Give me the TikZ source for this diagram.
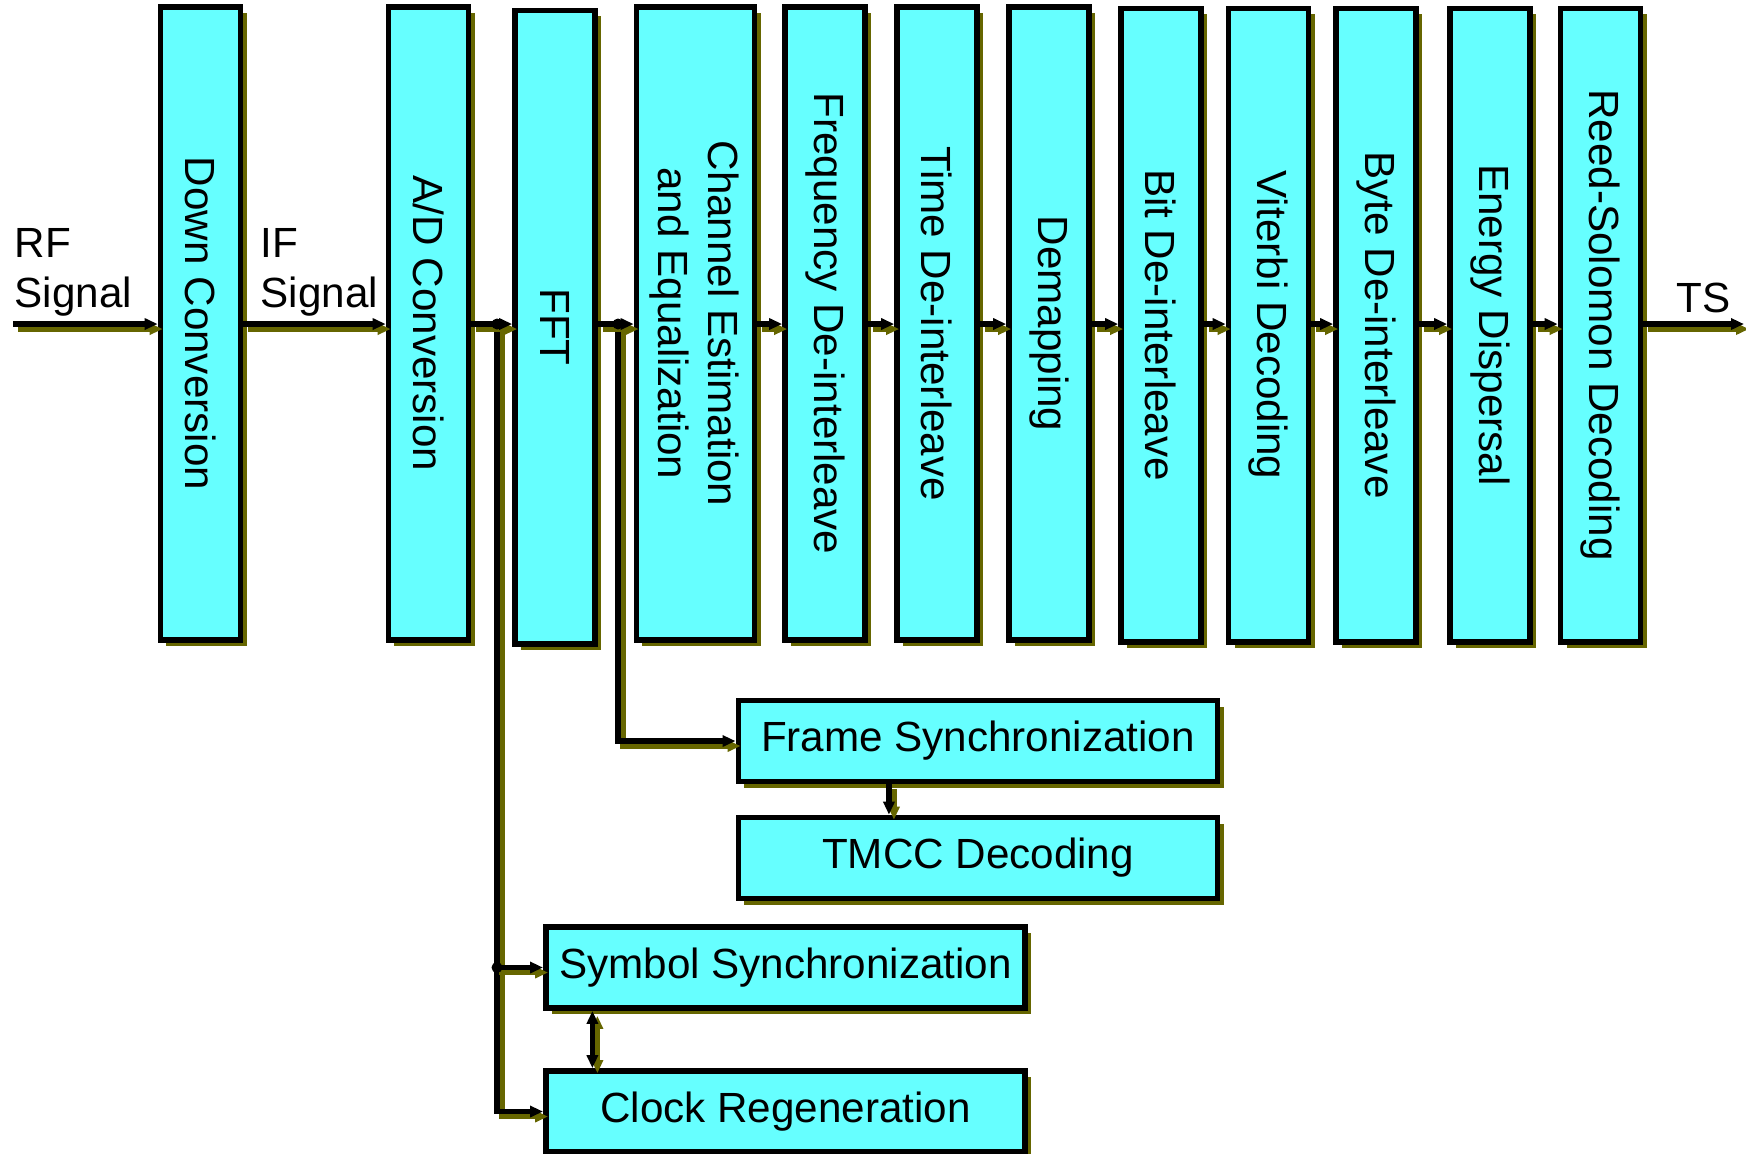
\documentclass[tikz,border=0pt]{standalone}
\usepackage{fontspec}
\setmainfont{Liberation Sans}
\usetikzlibrary{arrows.meta, positioning, shadows}
\definecolor{boxcyan}{RGB}{102,255,255}
\definecolor{shadowolive}{RGB}{102,102,0}
\newcommand{\diagfont}{\fontsize{12pt}{14.2pt}\selectfont}

\tikzset{
  stage/.style={draw, line width=1.6pt, fill=boxcyan, inner sep=0pt,
    minimum width=0.8cm, minimum height=6.33cm,
    drop shadow={opacity=1, fill=shadowolive, shadow xshift=0.06cm, shadow yshift=-0.06cm}},
  sidebox/.style={stage, minimum width=4.79cm, minimum height=0.81cm, font=\diagfont},
  vlabel/.style={rotate=-90, align=center, inner sep=0pt, font=\diagfont},
  sidelabel/.style={align=left, inner sep=0pt, anchor=north west, font=\diagfont},
  flow/.style={line width=1.5pt, -{Triangle[length=0.13cm, width=0.11cm]},
    preaction={draw=shadowolive, line width=1.5pt, transform canvas={xshift=0.05cm, yshift=-0.05cm}}},
  junction/.style={circle, fill, inner sep=0pt, minimum size=0.11cm},
}

\begin{document}
\begin{tikzpicture}[x=0.01cm, y=-0.01cm]
	\useasboundingbox (0,0) rectangle (1746,1153);
	
	% main chain
	\node[stage] (down) at (200.5,323.5) {};
	\node[stage] (ad) at (428.5,323.5) {};
	\node[stage] (fft) at (555,327) {};
	\node[stage, minimum width=1.18cm] (chan) at (695.5,323.5) {};
	\node[stage] (freq) at (825,323.5) {};
	\node[stage] (time) at (937,323.5) {};
	\node[stage] (demap) at (1049,323.5) {};
	\node[stage] (bit) at (1161,325) {};
	\node[stage] (vit) at (1268.5,325) {};
	\node[stage] (byte) at (1376,325) {};
	\node[stage] (energy) at (1490,325) {};
	\node[stage] (reed) at (1600.5,325) {};
	
	\node[vlabel] (downtxt) at (down.center) {Down Conversion};
	\node[vlabel] (adtxt) at (ad.center) {A/D Conversion};
	\node[vlabel] (ffttxt) at (fft.center) {FFT};
	\node[vlabel] (chantxt) at ([xshift=-0.015cm]chan.center) {Channel Estimation\\and Equalization};
	\node[vlabel] (freqtxt) at (freq.center) {Frequency De-interleave};
	\node[vlabel] (timetxt) at (time.center) {Time De-interleave};
	\node[vlabel] (demaptxt) at (demap.center) {Demapping};
	\node[vlabel] (bittxt) at (bit.center) {Bit De-interleave};
	\node[vlabel] (vittxt) at (vit.center) {Viterbi Decoding};
	\node[vlabel] (bytetxt) at (byte.center) {Byte De-interleave};
	\node[vlabel] (energytxt) at (energy.center) {Energy Dispersal};
	\node[vlabel] (reedtxt) at (reed.center) {Reed-Solomon Decoding};
	
	% side branches
	\node[sidebox] (frame) at (978,741) {Frame Synchronization};
	\node[sidebox] (tmcc) at (978,858) {TMCC Decoding};
	\node[sidebox] (symb) at (785.5,967.5) {Symbol Synchronization};
	\node[sidebox] (clock) at (785.5,1111.5) {Clock Regeneration};
	
	\node[sidelabel] (rftxt) at (14,228) {RF\\Signal};
	\node[sidelabel] (iftxt) at (260,228) {IF\\Signal};
	\node[sidelabel] (tstxt) at (1676,282) {TS};
	
	\coordinate (axis) at (0,324);
	\coordinate (rfin) at (13,324);
	\coordinate (tsout) at (1744,324);
	\coordinate (adsplit) at (497,324);
	\coordinate (fftsplit) at (618,324);
	
	\draw[flow] (rfin) -- (rfin -| down.west);
	\draw[flow] (down.east |- axis) -- (ad.west |- axis);
	\draw[flow] (adsplit) |- (clock.west);
	\draw[flow] (adsplit) |- (symb.west);
	\draw[flow] (ad.east |- axis) -- (fft.west |- axis);
	\draw[flow] (fftsplit) |- (frame.west);
	\draw[flow] (fft.east |- axis) -- (chan.west |- axis);
	\draw[flow] (chan.east |- axis) -- (freq.west |- axis);
	\draw[flow] (freq.east |- axis) -- (time.west |- axis);
	\draw[flow] (time.east |- axis) -- (demap.west |- axis);
	\draw[flow] (demap.east |- axis) -- (bit.west |- axis);
	\draw[flow] (bit.east |- axis) -- (vit.west |- axis);
	\draw[flow] (vit.east |- axis) -- (byte.west |- axis);
	\draw[flow] (byte.east |- axis) -- (energy.west |- axis);
	\draw[flow] (energy.east |- axis) -- (reed.west |- axis);
	\draw[flow] (reed.east |- axis) -- (tsout);
	\draw[flow] ([xshift=-0.89cm]frame.south) -- ([xshift=-0.89cm]tmcc.north);
	\draw[flow, {Triangle[length=0.13cm, width=0.11cm]}-{Triangle[length=0.13cm, width=0.11cm]}] ([xshift=-1.93cm]symb.south) -- ([xshift=-1.93cm]clock.north);
	
	\node[junction] (adjoin) at (adsplit) {};
	\node[junction] (fftjoin) at (fftsplit) {};
	\node[junction] (symbjoin) at (adsplit |- symb.west) {};
\end{tikzpicture}
\end{document}
